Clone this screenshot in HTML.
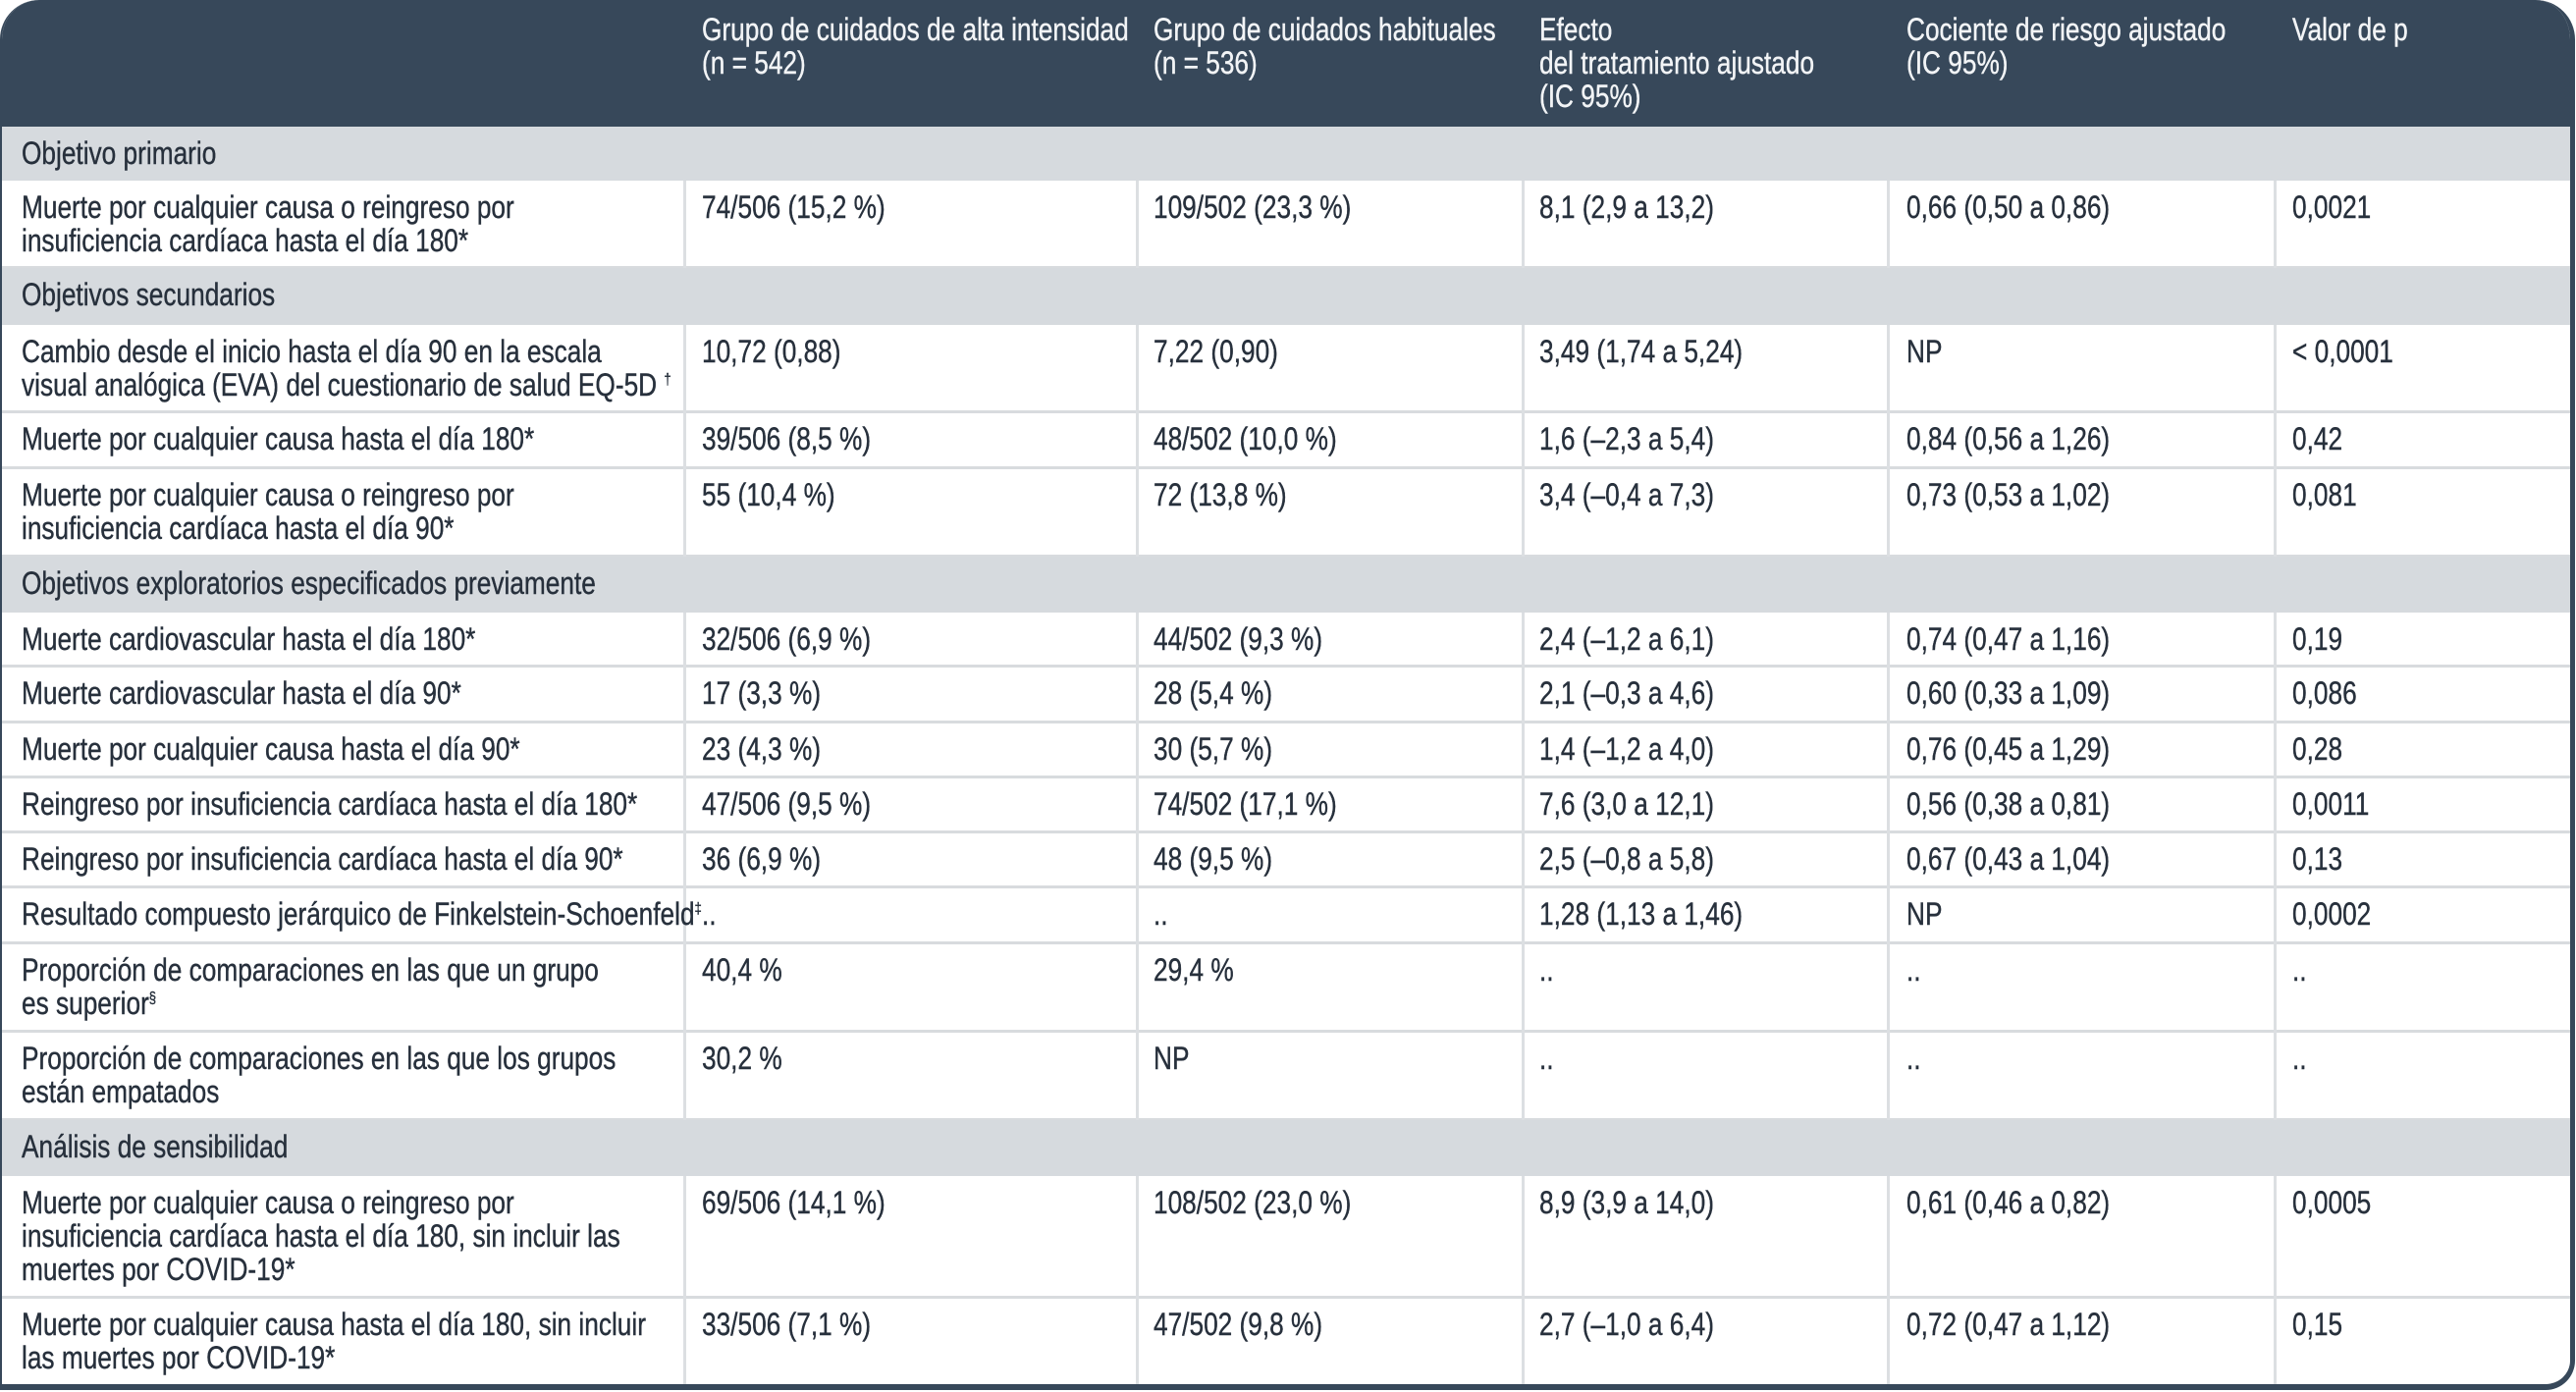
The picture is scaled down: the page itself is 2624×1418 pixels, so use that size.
<!DOCTYPE html>
<html><head><meta charset="utf-8"><style>
html,body{margin:0;padding:0;background:#fff;}
#wrap{position:relative;width:2624px;height:1418px;overflow:hidden;background:#fff;font-family:"Liberation Sans Narrow","Liberation Sans",sans-serif;}
#frame{position:absolute;left:0;top:0;width:2616px;height:1410px;border:0 solid #37485a;border-right-width:5px;border-bottom-width:6px;border-left-width:2px;border-radius:40px 40px 30px 0;overflow:hidden;background:#fff;}
.hdr{position:absolute;left:0;top:0;width:2624px;height:129px;background:#37485a;}
.band{position:absolute;left:0;width:2624px;background:#d6dade;}
.hl{position:absolute;left:0;width:2624px;height:3px;background:#d8dbde;}
.vl{position:absolute;width:3px;background:#dcdfe2;}
.t{position:absolute;font-size:32px;line-height:34px;color:#27303c;transform:scaleX(0.82);transform-origin:0 0;white-space:nowrap;-webkit-text-stroke:0.4px #27303c;}
.th{color:#f2f4f6;-webkit-text-stroke:0.4px #f2f4f6;}
sup{font-size:16px;line-height:0;}
</style></head><body>
<div id="wrap">
<div id="frame"></div>
</div>
<script>
const headers=["","Grupo de cuidados de alta intensidad<br>(n = 542)","Grupo de cuidados habituales<br>(n = 536)","Efecto<br>del tratamiento ajustado<br>(IC 95%)","Cociente de riesgo ajustado<br>(IC 95%)","Valor de p"];
const colX=[20,713,1173,1566,1940,2333];
const lineX=[694,1155,1548,1920,2314];
const rows=[
["b",129,184,["Objetivo primario"]],
["r",184,273,["Muerte por cualquier causa o reingreso por<br>insuficiencia cardíaca hasta el día 180*","74/506 (15,2 %)","109/502 (23,3 %)","8,1 (2,9 a 13,2)","0,66 (0,50 a 0,86)","0,0021"]],
["b",273,331,["Objetivos secundarios"]],
["r",331,420,["Cambio desde el inicio hasta el día 90 en la escala<br>visual analógica (EVA) del cuestionario de salud EQ-5D <sup>†</sup>","10,72 (0,88)","7,22 (0,90)","3,49 (1,74 a 5,24)","NP","&lt; 0,0001"]],
["r",420,477,["Muerte por cualquier causa hasta el día 180*","39/506 (8,5 %)","48/502 (10,0 %)","1,6 (–2,3 a 5,4)","0,84 (0,56 a 1,26)","0,42"]],
["r",477,567,["Muerte por cualquier causa o reingreso por<br>insuficiencia cardíaca hasta el día 90*","55 (10,4 %)","72 (13,8 %)","3,4 (–0,4 a 7,3)","0,73 (0,53 a 1,02)","0,081"]],
["b",567,624,["Objetivos exploratorios especificados previamente"]],
["r",624,679,["Muerte cardiovascular hasta el día 180*","32/506 (6,9 %)","44/502 (9,3 %)","2,4 (–1,2 a 6,1)","0,74 (0,47 a 1,16)","0,19"]],
["r",679,736,["Muerte cardiovascular hasta el día 90*","17 (3,3 %)","28 (5,4 %)","2,1 (–0,3 a 4,6)","0,60 (0,33 a 1,09)","0,086"]],
["r",736,792,["Muerte por cualquier causa hasta el día 90*","23 (4,3 %)","30 (5,7 %)","1,4 (–1,2 a 4,0)","0,76 (0,45 a 1,29)","0,28"]],
["r",792,848,["Reingreso por insuficiencia cardíaca hasta el día 180*","47/506 (9,5 %)","74/502 (17,1 %)","7,6 (3,0 a 12,1)","0,56 (0,38 a 0,81)","0,0011"]],
["r",848,904,["Reingreso por insuficiencia cardíaca hasta el día 90*","36 (6,9 %)","48 (9,5 %)","2,5 (–0,8 a 5,8)","0,67 (0,43 a 1,04)","0,13"]],
["r",904,961,["Resultado compuesto jerárquico de Finkelstein-Schoenfeld<sup>‡</sup>","..","..","1,28 (1,13 a 1,46)","NP","0,0002"]],
["r",961,1051,["Proporción de comparaciones en las que un grupo<br>es superior<sup>§</sup>","40,4 %","29,4 %","..","..",".."]],
["r",1051,1141,["Proporción de comparaciones en las que los grupos<br>están empatados","30,2 %","NP","..","..",".."]],
["b",1141,1198,["Análisis de sensibilidad"]],
["r",1198,1322,["Muerte por cualquier causa o reingreso por<br>insuficiencia cardíaca hasta el día 180, sin incluir las<br>muertes por COVID-19*","69/506 (14,1 %)","108/502 (23,0 %)","8,9 (3,9 a 14,0)","0,61 (0,46 a 0,82)","0,0005"]],
["r",1322,1412,["Muerte por cualquier causa hasta el día 180, sin incluir<br>las muertes por COVID-19*","33/506 (7,1 %)","47/502 (9,8 %)","2,7 (–1,0 a 6,4)","0,72 (0,47 a 1,12)","0,15"]]
];
const f=document.getElementById('frame');
function mk(cls,st){const d=document.createElement('div');d.className=cls;Object.assign(d.style,st);f.appendChild(d);return d;}
const h=mk('hdr',{});


headers.forEach((t,i)=>{if(!t)return;const d=mk('t th',{left:colX[i]+'px',top:'13px'});d.innerHTML=t;

});
rows.forEach((r)=>{
 const [type,top,bot,cells]=r;
 if(type==='b'){const b=mk('band',{top:top+'px',height:(bot-top)+'px'});
  
  
  const d=mk('t',{left:colX[0]+'px',top:(top+10)+'px'});d.innerHTML=cells[0];
  
  }
 else{
  const l=mk('hl',{top:(bot-2)+'px'});
  
  
  lineX.forEach(x=>{const v=mk('vl',{left:x+'px',top:top+'px',height:(bot-top)+'px'});
   
   });
  cells.forEach((c,i)=>{const d=mk('t',{left:colX[i]+'px',top:(top+10)+'px'});d.innerHTML=c;
   
   });
 }
});
</script>
</body></html>
